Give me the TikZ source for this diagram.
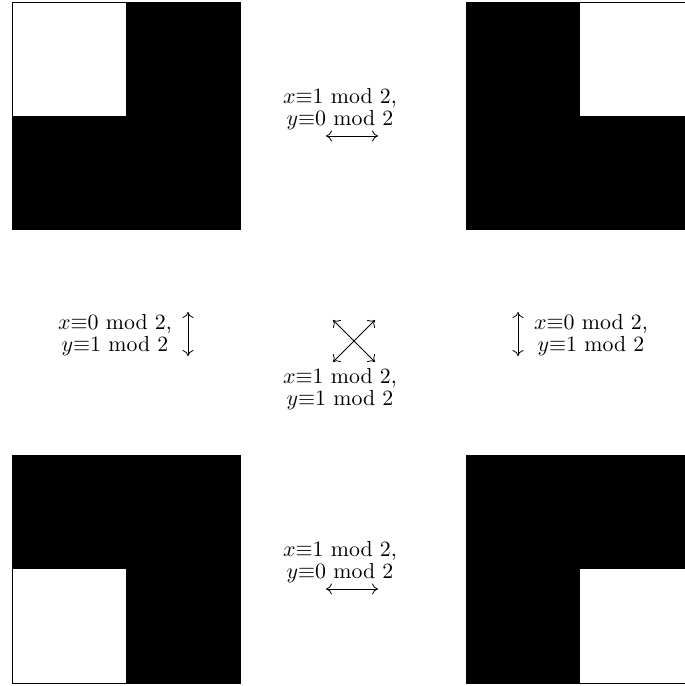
\documentclass[tikz,border=0pt]{standalone}
\usetikzlibrary{arrows.meta}
\begin{document}
\begin{tikzpicture}[x=0.5pt,y=-0.5pt,
  lab/.style={align=center,inner sep=0pt,font=\fontsize{10.9}{9.2}\selectfont},
  arr/.style={line width=0.4pt,{To[length=3pt,width=5.5pt]}-{To[length=3pt,width=5.5pt]}},
  sq/.style={fill=black,draw=black,line width=0.4pt},
  hole/.style={fill=white}]
\clip (0,0) rectangle (685,686);
% squares
\filldraw[sq] (12,2) rectangle (240,229);
\fill[hole] (12,2) rectangle (126,115.5);
\draw[line width=0.4pt] (12,2) rectangle (240,229);

\filldraw[sq] (466,2) rectangle (694,229);
\fill[hole] (580,2) rectangle (694,115.5);
\draw[line width=0.4pt] (466,2) rectangle (694,229);

\filldraw[sq] (12,455) rectangle (240,683);
\fill[hole] (12,569) rectangle (126,683);
\draw[line width=0.4pt] (12,455) rectangle (240,683);

\filldraw[sq] (466,455) rectangle (694,683);
\fill[hole] (580,569) rectangle (694,683);
\draw[line width=0.4pt] (466,455) rectangle (694,683);

% labels
\node[lab] (top) at (340,109) {$x{\equiv}1$ mod 2,\\$y{\equiv}0$ mod 2};
\coordinate (ta) at (326,136); \coordinate (tb) at (378,136);
\draw[arr] (ta) -- (tb);

\node[lab] (bot) at (340,562) {$x{\equiv}1$ mod 2,\\$y{\equiv}0$ mod 2};
\coordinate (ba) at (326,589); \coordinate (bb) at (378,589);
\draw[arr] (ba) -- (bb);

\node[lab] (left) at (115,335) {$x{\equiv}0$ mod 2,\\$y{\equiv}1$ mod 2};
\coordinate (la) at (188,312); \coordinate (lb) at (188,356);
\draw[arr] (la) -- (lb);

\node[lab] (right) at (591,335) {$x{\equiv}0$ mod 2,\\$y{\equiv}1$ mod 2};
\coordinate (ra) at (518,312); \coordinate (rb) at (518,356);
\draw[arr] (ra) -- (rb);

\node[lab] (mid) at (340,389) {$x{\equiv}1$ mod 2,\\$y{\equiv}1$ mod 2};
\coordinate (c1) at (333,320); \coordinate (c2) at (375,362);
\coordinate (c3) at (375,320); \coordinate (c4) at (333,362);
\draw[arr] (c1) -- (c2);
\draw[arr] (c3) -- (c4);
\end{tikzpicture}
\end{document}
